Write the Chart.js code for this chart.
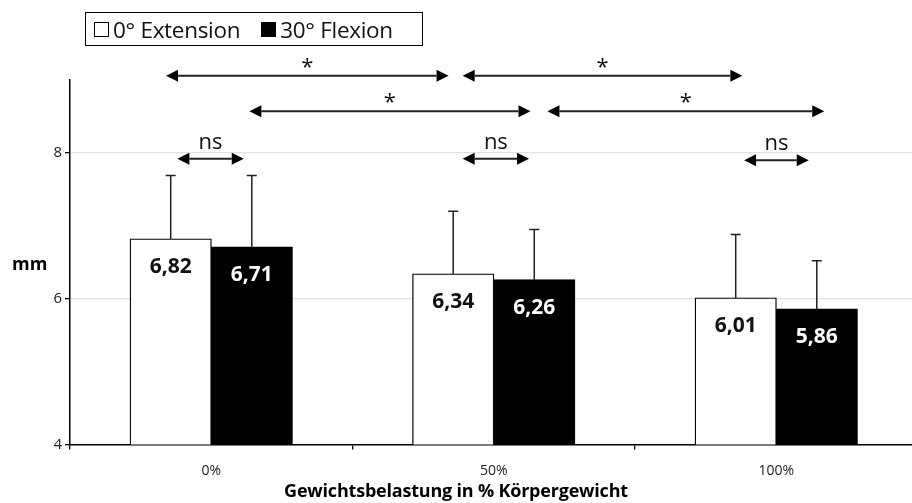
<!DOCTYPE html>
<html lang="de">
<head>
    <meta charset="UTF-8">
    <title>Gewichtsbelastung</title>
    <script src="https://cdn.jsdelivr.net/npm/chart.js"></script>
    <style>
        body { margin: 0; overflow: hidden; background: #fff; font-family: "Open Sans", sans-serif; }
        .wrap { position: relative; width: 912px; height: 503px; overflow: hidden; }
        .legend {
            position: absolute; left: 85px; top: 12px; width: 338px; height: 34px;
            border: 1.5px solid #000; font-size: 22.5px; color: #111; letter-spacing: -0.3px;
            display: flex; align-items: center; padding-left: 8px; box-sizing: border-box;
        }
        .sq { display: inline-block; width: 15px; height: 15px; border: 1.3px solid #000; margin-right: 4px; box-sizing: border-box; }
        .sq.black { background: #000; margin-left: 21px; }
        .ytitle { position: absolute; left: 12px; top: 251px; font-weight: bold; font-size: 18px; }
        .xtitle { position: absolute; left: 0; width: 912px; top: 478px; text-align: center; font-weight: bold; font-size: 18px; letter-spacing: -0.2px; }
    </style>
</head>
<body>
<div class="wrap">
    <canvas id="chart" width="930" height="503"></canvas>
    <div class="legend"><span class="sq"></span>0° Extension<span class="sq black"></span>30° Flexion</div>
    <div class="ytitle">mm</div>
    <div class="xtitle">Gewichtsbelastung in % Körpergewicht</div>
</div>
<script>
// Daten
const categories = ['0%', '50%', '100%'];
const extension = [6.82, 6.34, 6.01];
const flexion = [6.71, 6.26, 5.86];
const extensionSD = [0.87, 0.86, 0.87];
const flexionSD = [0.98, 0.69, 0.66];
const yTicks = [4, 6, 8];

// Signifikanz-Pfeile (x in Kategorie-Einheiten, y in mm)
const sigLabels = ['*', '*', '*', '*', 'ns', 'ns', 'ns'];
const sigFrom = [-0.16, 0.89, 0.135, 1.19, -0.12, 0.89, 1.886];
const sigTo = [0.84, 1.88, 1.13, 2.17, 0.115, 1.125, 2.115];
const sigLevel = [9.06, 9.06, 8.57, 8.57, 7.92, 7.92, 7.90];

const sdList = [extensionSD, flexionSD];

const extrasPlugin = {
    id: 'extras',
    afterDatasetsDraw(chart) {
        const ctx = chart.ctx;
        const x = chart.scales.x, y = chart.scales.y;
        ctx.save();
        // Fehlerbalken
        ctx.strokeStyle = '#222';
        ctx.lineWidth = 1.5;
        chart.data.datasets.forEach((ds, di) => {
            chart.getDatasetMeta(di).data.forEach((bar, i) => {
                const top = y.getPixelForValue(ds.data[i] + sdList[di][i]);
                ctx.beginPath();
                ctx.moveTo(bar.x, bar.y);
                ctx.lineTo(bar.x, top);
                ctx.moveTo(bar.x - 5, top);
                ctx.lineTo(bar.x + 5, top);
                ctx.stroke();
            });
        });
        // Werte in den Balken
        ctx.font = 'bold 21px "Open Sans"';
        ctx.textAlign = 'center';
        ctx.textBaseline = 'alphabetic';
        chart.data.datasets.forEach((ds, di) => {
            ctx.fillStyle = di === 0 ? '#111' : '#fff';
            chart.getDatasetMeta(di).data.forEach((bar, i) => {
                ctx.fillText(ds.data[i].toFixed(2).replace('.', ','), bar.x, bar.y + 34);
            });
        });
        // Pfeile
        for (let k = 0; k < sigLabels.length; k++) {
            const x1 = x.getPixelForValue(sigFrom[k]);
            const x2 = x.getPixelForValue(sigTo[k]);
            const yy = y.getPixelForValue(sigLevel[k]);
            const head = 12, hw = 6;
            ctx.strokeStyle = '#222';
            ctx.lineWidth = 2;
            ctx.beginPath();
            ctx.moveTo(x1 + head, yy);
            ctx.lineTo(x2 - head, yy);
            ctx.stroke();
            ctx.fillStyle = '#000';
            ctx.beginPath();
            ctx.moveTo(x1, yy); ctx.lineTo(x1 + head, yy - hw); ctx.lineTo(x1 + head, yy + hw); ctx.closePath();
            ctx.fill();
            ctx.beginPath();
            ctx.moveTo(x2, yy); ctx.lineTo(x2 - head, yy - hw); ctx.lineTo(x2 - head, yy + hw); ctx.closePath();
            ctx.fill();
            ctx.fillStyle = '#111';
            ctx.font = '22px "Open Sans"';
            if (sigLabels[k] === '*') {
                ctx.fillText('*', (x1 + x2) / 2, yy - 2);
            } else {
                ctx.fillText(sigLabels[k], (x1 + x2) / 2, yy - 10);
            }
        }
        ctx.restore();
    }
};

new Chart(document.getElementById('chart'), {
    type: 'bar',
    data: {
        labels: categories,
        datasets: [{
            label: '0° Extension',
            data: extension,
            backgroundColor: '#fff',
            borderColor: '#000',
            borderWidth: 1.3
        }, {
            label: '30° Flexion',
            data: flexion,
            backgroundColor: '#000',
            borderColor: '#000',
            borderWidth: 1.3
        }]
    },
    options: {
        responsive: false,
        animation: false,
        layout: { padding: { top: 80, right: 12.5, left: 0, bottom: 0 } },
        plugins: { legend: { display: false }, tooltip: { enabled: false } },
        datasets: { bar: { categoryPercentage: 0.574, barPercentage: 1, inflateAmount: 0.5 } },
        scales: {
            x: {
                grid: { drawOnChartArea: false, color: '#000', tickLength: 5, lineWidth: 1.3 },
                border: { color: '#000', width: 1.5 },
                ticks: { color: '#222', font: { family: 'Open Sans', size: 14 }, padding: 13 },
                afterFit(scale) { scale.height = 58.5; }
            },
            y: {
                min: 4,
                max: 9,
                afterBuildTicks(scale) { scale.ticks = yTicks.map(v => ({ value: v })); },
                grid: { color: '#e2e2e2', tickColor: '#000', tickLength: 5, lineWidth: 1.3 },
                border: { color: '#000', width: 1.5 },
                ticks: { color: '#222', font: { family: 'Open Sans', size: 15 }, padding: 3 },
                afterFit(scale) { scale.width = 70; }
            }
        }
    },
    plugins: [extrasPlugin]
});
</script>
</body>
</html>
